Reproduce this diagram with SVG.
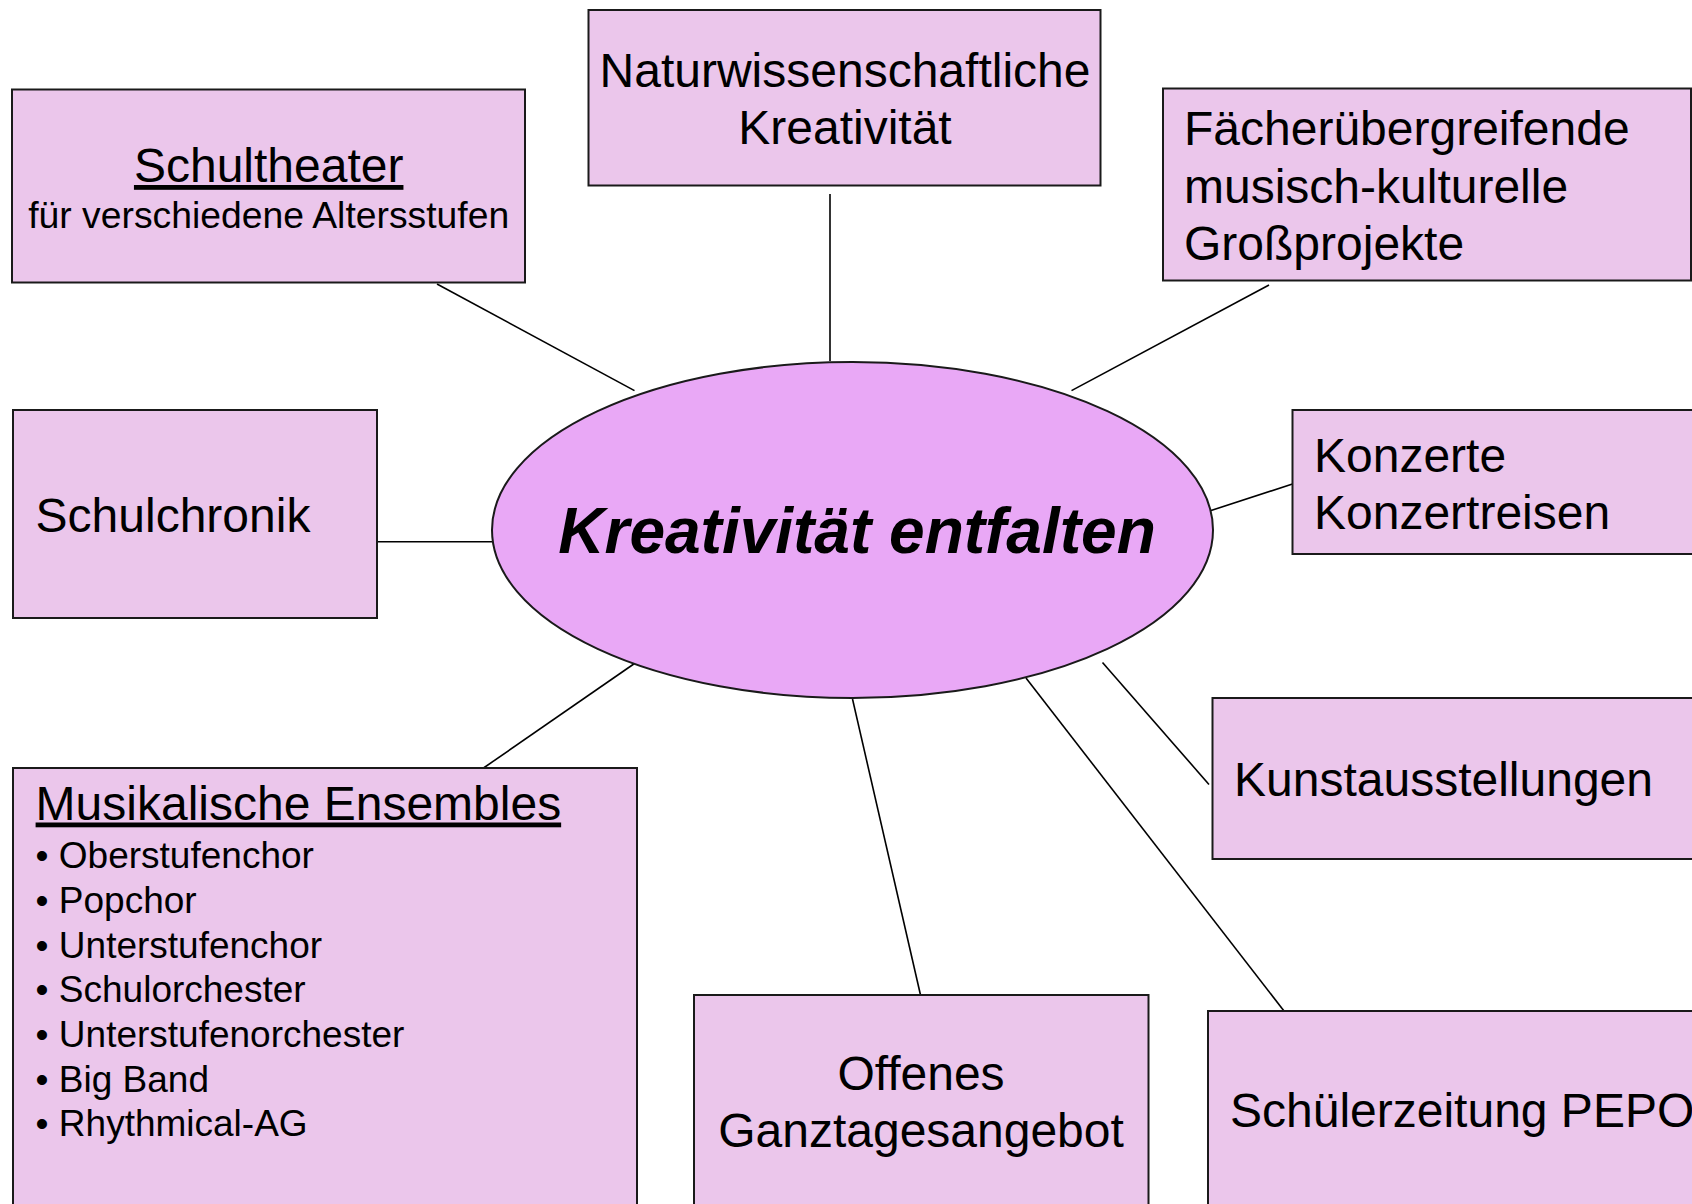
<svg xmlns="http://www.w3.org/2000/svg" width="1692" height="1204" viewBox="0 0 1692 1204">
<style>
.box{fill:#EBC6EB;stroke:#1a1a1a;stroke-width:2}
.hub{fill:#E9A8F6;stroke:#1a1a1a;stroke-width:2}
.t{font-family:"Liberation Sans",Arial,sans-serif;font-size:48px;fill:#000}
.s{font-family:"Liberation Sans",Arial,sans-serif;font-size:37.3px;fill:#000}
.b{font-family:"Liberation Sans",Arial,sans-serif;font-size:37px;fill:#000}
.c{text-anchor:middle}
.u{text-decoration:underline}
.title{font-family:"Liberation Sans",Arial,sans-serif;font-size:64px;font-weight:bold;font-style:italic;fill:#000;text-anchor:middle}
#connectors line{stroke:#000;stroke-width:1.6}
</style>
<rect width="1692" height="1204" fill="#fff"/>
<g id="connectors">
<line x1="437" y1="284" x2="634.5" y2="390.6"/>
<line x1="830" y1="194" x2="830" y2="361"/>
<line x1="1269" y1="285" x2="1071.5" y2="390.6"/>
<line x1="1292.5" y1="484" x2="1209.5" y2="511"/>
<line x1="1209" y1="784.5" x2="1102.5" y2="662.5"/>
<line x1="1284" y1="1011" x2="1026" y2="678"/>
<line x1="920.5" y1="995" x2="852.5" y2="699"/>
<line x1="483.5" y1="768" x2="634.5" y2="663.5"/>
<line x1="377" y1="541.7" x2="498" y2="541.7"/>
</g>
<g id="hub">
<ellipse class="hub" cx="852.5" cy="530" rx="360.5" ry="168"/>
<text class="title" x="857" y="553">Kreativität entfalten</text>
</g>
<g id="schultheater">
<rect class="box" x="12" y="89.5" width="513" height="193"/>
<text class="t c u" x="268.7" y="182">Schultheater</text>
<text class="s c" x="268.7" y="228">für verschiedene Altersstufen</text>
</g>
<g id="naturwiss">
<rect class="box" x="588.5" y="10" width="512" height="175.5"/>
<text class="t c" x="845" y="87">Naturwissenschaftliche</text>
<text class="t c" x="845" y="144">Kreativität</text>
</g>
<g id="faecher">
<rect class="box" x="1163" y="88.5" width="528" height="192"/>
<text class="t" x="1184" y="145">Fächerübergreifende</text>
<text class="t" x="1184" y="203">musisch-kulturelle</text>
<text class="t" x="1184" y="260">Großprojekte</text>
</g>
<g id="konzerte">
<rect class="box" x="1292.5" y="410" width="410" height="144"/>
<text class="t" x="1314" y="471.5">Konzerte</text>
<text class="t" x="1314" y="529">Konzertreisen</text>
</g>
<g id="schulchronik">
<rect class="box" x="13" y="410" width="364" height="208"/>
<text class="t" x="35.6" y="532">Schulchronik</text>
</g>
<g id="kunst">
<rect class="box" x="1212.5" y="698" width="490" height="161"/>
<text class="t" x="1234" y="796">Kunstausstellungen</text>
</g>
<g id="pepo">
<rect class="box" x="1208" y="1011" width="500" height="210"/>
<text class="t" x="1230" y="1127">Schülerzeitung PEPO</text>
</g>
<g id="offenes">
<rect class="box" x="694" y="995" width="454.5" height="225"/>
<text class="t c" x="921" y="1090">Offenes</text>
<text class="t c" x="921" y="1147">Ganztagesangebot</text>
</g>
<g id="ensembles">
<rect class="box" x="13" y="768" width="624" height="450"/>
<text class="t u" x="35.6" y="819.5">Musikalische Ensembles</text>
<text class="b" x="35.6" y="868">• Oberstufenchor</text>
<text class="b" x="35.6" y="913">• Popchor</text>
<text class="b" x="35.6" y="957.5">• Unterstufenchor</text>
<text class="b" x="35.6" y="1002">• Schulorchester</text>
<text class="b" x="35.6" y="1047">• Unterstufenorchester</text>
<text class="b" x="35.6" y="1091.5">• Big Band</text>
<text class="b" x="35.6" y="1136">• Rhythmical-AG</text>
</g>
</svg>
